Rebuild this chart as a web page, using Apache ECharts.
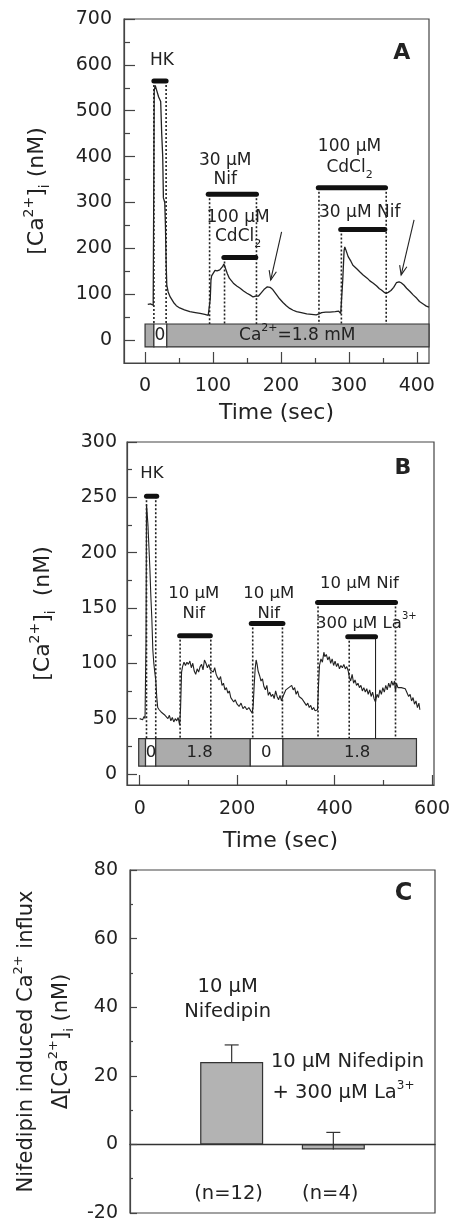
<!DOCTYPE html>
<html><head><meta charset="utf-8">
<script src="https://cdn.jsdelivr.net/npm/echarts@6/dist/echarts.min.js"></script>
<style>html,body{margin:0;padding:0;background:#fff}#c{width:452px;height:1222px}</style>
</head><body><div id="c"></div>
<script>
// ---------- Panel A data ----------
const aTime = [4,8,12,13,13.5,15,17,20,23,24.5,26,27,29,30,31,32,34,37,42,46,51,58,66,74,81,88,93,95,96,97,98,103,106,110,114,116,118,121,124,130,135,140,145,150,155,159,163,167,171,175,180,184,188,194,198,203,208,213,218,223,230,238,245,252,256,260,266,272,280,285,288,289,291,293,294,296,299,303,306,312,316,321,327,331,336,341,345,348,352,355,358,362,366,370,374,377,381,385,390,395,400,404,410,414,418];
const aCa = [78,79,76,80,545,555,545,530,520,450,400,310,300,250,170,120,105,94,82,75,70,66,62,60,58,56,54,50,90,130,140,152,151,153,160,166,158,145,135,124,118,113,107,102,98,94,96,96,103,110,116,115,110,98,90,82,75,69,65,62,60,57,56,55,57,60,61,61,62,63,58,62,130,195,203,195,182,172,163,155,149,142,135,129,124,118,112,109,104,102,104,108,115,125,127,125,120,113,106,98,91,84,78,74,72];
const aDrugBars = [[13,31,565],[93,164,318],[116,163,180],[255,354,332],[288,353,241]];      // [start, end, level]
const aDotLines = [[13,565,35],[31,565,35],[95,318,35],[117,180,35],[164,318,35],[256,332,35],[289,241,35],[355,332,35]]; // [t, from, to]
const aCaBoxes = [[0,13,-15,35,1],[13,32,-15,35,0],[32,418,-15,35,1]]; // [t1,t2,v1,v2,grey?]
const aArrows = [[201,236,185,131],[396,262,377,142]];
const aLabelText = ['HK','30 µM','Nif','100 µM','{t|CdCl}{sub|2}','100 µM','{t|CdCl}{sub|2}','30 µM Nif','{b|A}','0','{t|Ca}{sup|2+}{t|=1.8 mM}'];
const aLabelT = [25,118,118,137,137,301,301,316,378,22,224];
const aLabelV = [610,392,349,268,225,421,375,279,626,10,10];
const aXTicks = [0,100,200,300,400];
const aXMinor = [50,150,250,350];
const aYTicks = [0,100,200,300,400,500,600,700];
const aYMinor = [50,150,250,350,450,550,650];

// ---------- Panel B data ----------
const bTrace = [[0,50],[3,51],[6,49],[9,52],[11,50],[12,49],[13,120],[14,244],[15,238],[17,225],[19,205],[21,185],[23,160],[25,140],[27,112],[29,100],[31,92],[33,85],[35,70],[37,60],[40,58],[44,56],[48,55],[52,53],[55,52],[58,50],[61,53],[64,48],[67,51],[70,47],[73,50],[76,48],[79,51],[82,44],[84,60],[86,92],[88,97],[91,101],[94,98],[97,101],[100,99],[103,102],[106,96],[109,100],[112,93],[115,90],[118,95],[121,92],[124,97],[127,99],[130,94],[133,103],[136,100],[139,96],[142,99],[145,94],[148,95],[151,92],[154,96],[157,90],[160,87],[163,85],[166,88],[169,80],[172,82],[175,76],[178,78],[181,73],[184,75],[187,69],[190,70],[193,65],[196,67],[200,63],[204,61],[208,64],[212,59],[216,61],[220,58],[224,60],[228,57],[231,55],[233,62],[235,80],[237,95],[239,103],[241,99],[243,93],[246,89],[249,84],[252,86],[255,79],[258,76],[261,80],[264,71],[267,74],[270,70],[273,72],[276,68],[279,75],[282,70],[285,67],[288,71],[291,66],[294,70],[297,73],[300,76],[303,75],[306,78],[309,77],[312,80],[315,76],[318,78],[321,72],[324,75],[327,70],[330,71],[333,68],[336,66],[339,65],[342,62],[345,64],[348,60],[351,62],[354,58],[357,60],[360,57],[363,56],[365,58],[367,80],[369,98],[372,104],[375,101],[378,110],[380,106],[383,108],[386,103],[389,106],[392,100],[395,104],[398,98],[401,102],[404,97],[407,100],[410,95],[413,98],[416,96],[419,99],[422,95],[425,97],[428,93],[430,88],[433,84],[436,90],[439,82],[442,85],[445,80],[448,82],[451,78],[454,80],[457,75],[460,78],[463,74],[466,77],[469,72],[472,76],[475,70],[478,74],[481,68],[484,65],[487,72],[490,69],[493,76],[496,72],[499,78],[502,74],[505,80],[508,76],[511,82],[514,78],[517,84],[520,80],[523,84],[525,74],[527,82],[530,78],[533,79],[537,78],[541,77],[545,77],[549,76],[552,70],[555,72],[558,66],[561,69],[564,63],[567,66],[570,60],[573,64],[575,58]];
const bDrugBars = [[14,35,251],[82,145,125],[229,294,136],[365,525,155],[427,484,124]];
const bDotLines = [[14,251,32],[33,251,32],[83,125,32],[146,125,32],[232,136,32],[293,136,32],[366,155,32],[430,124,32],[525,155,32]];
const bSolidLines = [[484,124,32]];
const bCaBoxes = [[-2,12,7,32,1],[12,33,7,32,0],[33,227,7,32,1],[227,294,7,32,0],[294,568,7,32,1]];
const bLabelText = ['HK','10 µM','Nif','10 µM','Nif','10 µM Nif','{t|300 µM La}{sup|3+}','{b|B}','0','1.8','0','1.8'];
const bLabelT = [25,111,111,265,265,451,465,540,23,123,260,446];
const bLabelV = [271,163,145,163,145,172,136,276,19.5,19.5,19.5,19.5];
const bXTicks = [0,200,400,600];
const bXMinor = [100,300,500];
const bYTicks = [0,50,100,150,200,250,300];
const bYMinor = [25,75,125,175,225,275];

// ---------- Panel C data ----------
const cPos = [1,2];
const cMean = [24,-1.5];
const cErrTop = [29,3.5];
const cLabelText = ['10 µM','Nifedipin','10 µM Nifedipin','{t|+ 300 µM La}{sup|3+}','(n=12)','(n=4)','{b|C}'];
const cLabelX = [0.96,0.96,2.14,2.10,0.97,1.97,2.69];
const cLabelY = [45.8,38.5,23.9,14.9,-14.3,-14.3,73];
const cYTicks = [-20,0,20,40,60,80];
const cYMinor = [-10,10,30,50,70];

// ---------- rendering ----------
const FONT = "'DejaVu Sans', Verdana, sans-serif";
const INK = '#222';
const GREY = '#ababab';
function rich(size, bsize){
  return {
    t:{fontSize:size,fontFamily:FONT,color:INK,lineHeight:size+8},
    sup:{fontSize:Math.round(size*0.62),fontFamily:FONT,color:INK,verticalAlign:'top',lineHeight:size+8},
    sub:{fontSize:Math.round(size*0.62),fontFamily:FONT,color:INK,verticalAlign:'bottom',lineHeight:size+8},
    b:{fontSize:bsize||22,fontWeight:'bold',fontFamily:FONT,color:INK}
  };
}
function hBar(params, api){
  const p1 = api.coord([api.value(0), api.value(2)]);
  const p2 = api.coord([api.value(1), api.value(2)]);
  return {type:'line',shape:{x1:p1[0],y1:p1[1],x2:p2[0],y2:p2[1]},style:{stroke:'#111',lineWidth:5,lineCap:'round'}};
}
function vLine(dash){
  return function(params, api){
    const p1 = api.coord([api.value(0), api.value(1)]);
    const p2 = api.coord([api.value(0), api.value(2)]);
    return {type:'line',shape:{x1:p1[0],y1:p1[1],x2:p2[0],y2:p2[1]},style:{stroke:'#222',lineWidth:dash?1.6:1.1,lineDash:dash?[2,2]:null}};
  };
}
function box(params, api){
  const p1 = api.coord([api.value(0), api.value(3)]);
  const p2 = api.coord([api.value(1), api.value(2)]);
  return {type:'rect',shape:{x:p1[0],y:p1[1],width:p2[0]-p1[0],height:p2[1]-p1[1]},style:{fill:api.value(4)?GREY:'#fff',stroke:'#333',lineWidth:1.2}};
}
function arrow(params, api){
  const a = api.coord([api.value(0), api.value(1)]);
  const b = api.coord([api.value(2), api.value(3)]);
  const ang = Math.atan2(b[1]-a[1], b[0]-a[0]);
  const L = 10, w = 0.38;
  const h1 = [b[0]-L*Math.cos(ang-w), b[1]-L*Math.sin(ang-w)];
  const h2 = [b[0]-L*Math.cos(ang+w), b[1]-L*Math.sin(ang+w)];
  return {type:'group',children:[
    {type:'line',shape:{x1:a[0],y1:a[1],x2:b[0],y2:b[1]},style:{stroke:'#222',lineWidth:1.1}},
    {type:'polyline',shape:{points:[h1,b,h2]},style:{stroke:'#222',lineWidth:1.1,fill:null}}
  ]};
}
function textRender(labels, size, bsize){
  return function(params, api){
    const p = api.coord([api.value(0), api.value(1)]);
    const s = labels[api.value(2)];
    const txt = s.indexOf('{') === 0 ? s : '{t|' + s + '}';
    return {type:'text',x:p[0],y:p[1],style:{text:txt,align:'center',verticalAlign:'middle',rich:rich(size,bsize),fill:INK,font:size+'px '+FONT}};
  };
}
function errBar(params, api){
  const a = api.coord([api.value(0), api.value(1)]);
  const b = api.coord([api.value(0), api.value(2)]);
  return {type:'group',children:[
    {type:'line',shape:{x1:a[0],y1:a[1],x2:b[0],y2:b[1]},style:{stroke:'#333',lineWidth:1.2}},
    {type:'line',shape:{x1:b[0]-7,y1:b[1],x2:b[0]+7,y2:b[1]},style:{stroke:'#333',lineWidth:1.2}}
  ]};
}
function cs(xi, yi, data, fn, z){
  return {type:'custom',xAxisIndex:xi,yAxisIndex:yi,data:data,renderItem:fn,silent:true,animation:false,z:z||3};
}
const lbl = {fontSize:19,color:INK,fontFamily:FONT};
function majorAxis(gi, min, max, ticks, len, extra){
  return Object.assign({type:'value',gridIndex:gi,min:min,max:max,
    axisLine:{show:true,onZero:false,lineStyle:{color:'#444',width:1.2}},
    axisTick:{show:true,inside:true,length:len,customValues:ticks,lineStyle:{color:'#444',width:1.2}},
    axisLabel:Object.assign({customValues:ticks},lbl),
    splitLine:{show:false}}, extra||{});
}
function minorAxis(gi, min, max, ticks, len, extra){
  return Object.assign({type:'value',gridIndex:gi,min:min,max:max,
    axisLine:{show:false,onZero:false},
    axisTick:{show:true,inside:true,length:len,customValues:ticks,lineStyle:{color:'#444',width:1.2}},
    axisLabel:{show:false},splitLine:{show:false}}, extra||{});
}
function zip(a,b){return a.map((v,i)=>[v,b[i]]);}
function idx(xs,ys){return xs.map((v,i)=>[v,ys[i],i]);}
const nameStyle = (size)=>({fontSize:size,color:INK,fontFamily:FONT,rich:rich(size)});

const option = {
  animation:false,
  backgroundColor:'#fff',
  grid:[
    {left:124,top:19,width:305,height:344,show:true,borderColor:'#444',borderWidth:1.2,backgroundColor:'transparent',outerBoundsMode:'none'},
    {left:127,top:442,width:307,height:343,show:true,borderColor:'#444',borderWidth:1.2,backgroundColor:'transparent',outerBoundsMode:'none'},
    {left:130,top:870,width:305,height:343,show:true,borderColor:'#444',borderWidth:1.2,backgroundColor:'transparent',outerBoundsMode:'none'}
  ],
  xAxis:[
    majorAxis(0,-31,418,aXTicks,11,{position:'bottom',name:'Time (sec)',nameLocation:'middle',nameGap:39,nameTextStyle:{fontSize:22,color:INK,fontFamily:FONT},axisLabel:Object.assign({customValues:aXTicks,margin:14},lbl)}),
    minorAxis(0,-31,418,aXMinor,5,{position:'bottom'}),
    majorAxis(1,-26,604,bXTicks,10,{position:'bottom',name:'Time (sec)',nameLocation:'middle',nameGap:45,nameTextStyle:{fontSize:22,color:INK,fontFamily:FONT},axisLabel:Object.assign({customValues:bXTicks,margin:15},lbl)}),
    minorAxis(1,-26,604,bXMinor,5,{position:'bottom'}),
    {type:'value',gridIndex:2,min:0,max:3,position:'bottom',axisLine:{show:true,onZero:true,lineStyle:{color:'#333',width:1.4}},axisTick:{show:false},axisLabel:{show:false},splitLine:{show:false}}
  ],
  yAxis:[
    majorAxis(0,-50,700,aYTicks,11,{position:'left',name:'{t|[Ca}{sup|2+}{t|]}{sub|i}{t| (nM)}',nameLocation:'middle',nameGap:72,nameRotate:90,nameTextStyle:nameStyle(22),axisLabel:Object.assign({customValues:aYTicks,margin:12},lbl)}),
    minorAxis(0,-50,700,aYMinor,6,{position:'left'}),
    majorAxis(1,-10,300,bYTicks,10,{position:'left',name:'{t|[Ca}{sup|2+}{t|]}{sub|i}{t|  (nM)}',nameLocation:'middle',nameGap:69,nameRotate:90,nameTextStyle:nameStyle(22),axisLabel:Object.assign({customValues:bYTicks,margin:10},lbl)}),
    minorAxis(1,-10,300,bYMinor,5,{position:'left'}),
    majorAxis(2,-20,80,cYTicks,7,{position:'left',name:'{t|Δ[Ca}{sup|2+}{t|]}{sub|i}{t| (nM)}',nameLocation:'middle',nameGap:53,nameRotate:90,nameTextStyle:nameStyle(21),axisLabel:Object.assign({customValues:cYTicks,margin:12},lbl)}),
    minorAxis(2,-20,80,cYMinor,3,{position:'left',name:'{t|Nifedipin induced Ca}{sup|2+}{t| influx}',nameLocation:'middle',nameGap:89,nameRotate:90,nameTextStyle:nameStyle(21)})
  ],
  series:[
    // Panel A
    cs(0,0,aCaBoxes,box,2),
    cs(0,0,aDotLines,vLine(true),3),
    {type:'line',xAxisIndex:0,yAxisIndex:0,data:zip(aTime,aCa),showSymbol:false,symbol:'none',lineStyle:{color:'#222',width:1.3},z:4,animation:false,silent:true},
    cs(0,0,aDrugBars,hBar,5),
    cs(0,0,aArrows,arrow,5),
    cs(0,0,idx(aLabelT,aLabelV),textRender(aLabelText,17,22),6),
    // Panel B
    cs(2,2,bCaBoxes,box,2),
    cs(2,2,bDotLines,vLine(true),3),
    cs(2,2,bSolidLines,vLine(false),3),
    {type:'line',xAxisIndex:2,yAxisIndex:2,data:bTrace,showSymbol:false,symbol:'none',lineStyle:{color:'#222',width:1.1},z:4,animation:false,silent:true},
    cs(2,2,bDrugBars,hBar,5),
    cs(2,2,idx(bLabelT,bLabelV),textRender(bLabelText,16.5,22),6),
    // Panel C
    {type:'bar',xAxisIndex:4,yAxisIndex:4,data:zip(cPos,cMean),barWidth:63,itemStyle:{color:'#b3b3b3',borderColor:'#333',borderWidth:1.2},z:2,animation:false,silent:true},
    cs(4,4,cPos.map((v,i)=>[v,cMean[i],cErrTop[i]]),errBar,3),
    cs(4,4,idx(cLabelX,cLabelY),textRender(cLabelText,19.5,24),6)
  ]
};
const chart = echarts.init(document.getElementById('c'),null,{renderer:'canvas'});
chart.setOption(option);
</script></body></html>
